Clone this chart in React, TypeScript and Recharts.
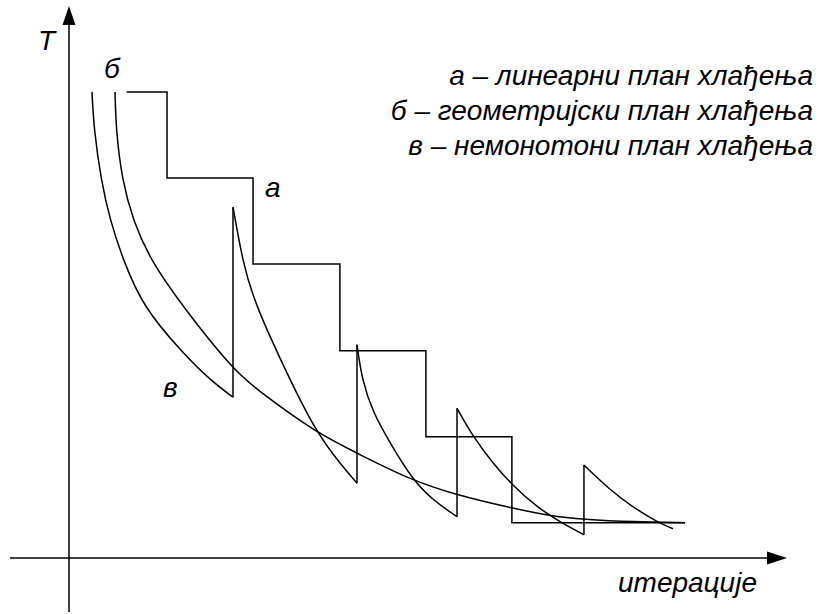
import React from 'react';
import { LineChart, Line, XAxis, YAxis, ReferenceLine } from 'recharts';

// a – linear schedule (stepped)
const stepX = [0.67, 1.14, 2.14, 3.15, 4.15, 5.15, 7.16];
const stepT = [5.42, 4.42, 3.42, 2.41, 1.41, 0.41, 0.41];

// б – geometric schedule
const geoX = [0.535, 0.547, 0.616, 0.744, 0.942, 1.326, 1.907, 2.221, 2.884, 3.349, 3.965, 4.512, 5.151, 5.593, 5.977, 6.558, 7.163];
const geoT = [5.42, 4.98, 4.4, 3.93, 3.47, 2.92, 2.19, 1.93, 1.45, 1.22, 0.91, 0.73, 0.58, 0.49, 0.45, 0.42, 0.41];

// в – non-monotonic schedule, one list per tooth
const sawX = [
  [0.267, 0.291, 0.372, 0.477, 0.628, 0.86, 1.326, 1.64, 1.907],
  [1.907, 2.023, 2.14, 2.302, 2.57, 2.884, 3.151, 3.349],
  [3.349, 3.407, 3.535, 3.733, 3.988, 4.233, 4.512],
  [4.512, 4.698, 4.93, 5.151, 5.442, 5.709, 5.988],
  [5.988, 6.291, 6.558, 6.837, 7.023],
];
const sawT = [
  [5.42, 4.98, 4.4, 3.93, 3.47, 2.92, 2.38, 2.07, 1.87],
  [4.08, 3.43, 3.04, 2.65, 2.07, 1.45, 1.1, 0.87],
  [2.48, 2.07, 1.69, 1.34, 0.92, 0.67, 0.48],
  [1.74, 1.41, 1.1, 0.85, 0.59, 0.42, 0.27],
  [1.08, 0.79, 0.59, 0.42, 0.34],
];

const legendLines = [
  'а – линеарни план хлађења',
  'б – геометријски план хлађења',
  'в – немонотони план хлађења',
];

const toPoints = (xs: number[], ts: number[]) => xs.map((x, i) => ({ x, t: ts[i] }));

const stepData = toPoints(stepX, stepT);
const geoData = toPoints(geoX, geoT);
const sawData = sawX.map((xs, i) => toPoints(xs, sawT[i]));
// vertical jumps between the teeth
const jumpData = sawData.slice(0, -1).map((seg, i) => {
  const end = seg[seg.length - 1];
  const next = sawData[i + 1][0];
  return [end, { x: next.x, t: next.t }];
});

const font = '"Liberation Sans", Arial, sans-serif';

const ArrowUp = (props: any) => {
  const { x1, y1, y2 } = props;
  const top = Math.min(y1, y2);
  const bottom = Math.max(y1, y2);
  return (
    <g>
      <line x1={x1} y1={bottom} x2={x1} y2={top + 16} stroke="#000" strokeWidth={1.5} />
      <polygon points={`${x1},${top} ${x1 - 6.5},${top + 19} ${x1 + 6.5},${top + 19}`} fill="#000" />
    </g>
  );
};

const ArrowRight = (props: any) => {
  const { x1, x2, y1 } = props;
  const left = Math.min(x1, x2);
  const right = Math.max(x1, x2);
  return (
    <g>
      <line x1={left} y1={y1} x2={right - 16} y2={y1} stroke="#000" strokeWidth={1.5} />
      <polygon points={`${right},${y1} ${right - 20},${y1 - 6.5} ${right - 20},${y1 + 6.5}`} fill="#000" />
    </g>
  );
};

const lineProps = {
  dataKey: 't',
  stroke: '#000',
  strokeWidth: 1.5,
  dot: false,
  activeDot: false,
  isAnimationActive: false,
} as const;

export default function App() {
  return (
    <div style={{ position: 'absolute', left: 0, top: 0, width: 820, height: 614, background: '#fff' }}>
      <LineChart width={820} height={614} margin={{ top: 6, right: 33, bottom: 2, left: 10 }}>
        <XAxis type="number" dataKey="x" domain={[-0.686, 8.349]} hide allowDataOverflow />
        <YAxis type="number" domain={[-0.628, 6.419]} hide allowDataOverflow />
        <ReferenceLine x={0} shape={ArrowUp} />
        <ReferenceLine y={0} shape={ArrowRight} />
        <Line {...lineProps} data={stepData} type="stepAfter" />
        <Line {...lineProps} data={geoData} type="basis" />
        {sawData.map((seg, i) => (
          <Line key={'saw' + i} {...lineProps} data={seg} type="basis" />
        ))}
        {jumpData.map((seg, i) => (
          <Line key={'jump' + i} {...lineProps} data={seg} type="linear" />
        ))}
      </LineChart>
      <svg
        width={820}
        height={614}
        style={{ position: 'absolute', left: 0, top: 0, pointerEvents: 'none' }}
        fontFamily={font}
        fontStyle="italic"
        fontSize={28}
      >
        <text x={38} y={50}>T</text>
        <text x={104} y={78}>б</text>
        <text x={265} y={197}>а</text>
        <text x={163} y={397}>в</text>
        <text x={618} y={592}>итерације</text>
        {legendLines.map((s, i) => (
          <text key={s} x={813} y={85 + i * 35} textAnchor="end">{s}</text>
        ))}
      </svg>
    </div>
  );
}
